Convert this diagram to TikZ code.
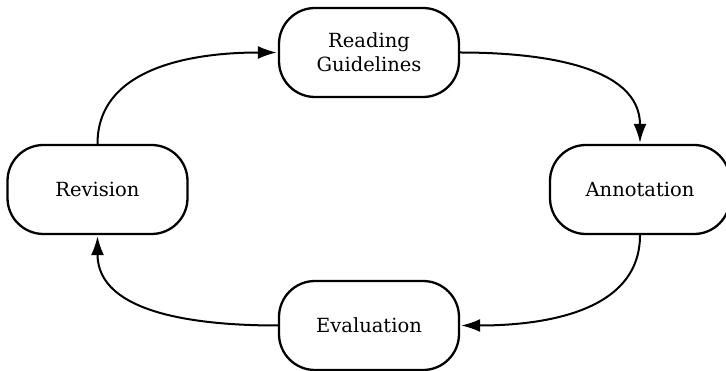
\documentclass[tikz,border=0pt]{standalone}
\usepackage{fontspec}
\setmainfont{DejaVu Serif}
\usetikzlibrary{arrows.meta}
\begin{document}
\begin{tikzpicture}[x=1pt,y=-1pt,
 box/.style={draw, line width=2.3pt, rounded corners=36pt, minimum width=180pt, minimum height=89pt, align=center, font=\fontsize{19.5}{24}\selectfont, inner sep=0pt, outer sep=1.2pt},
 flow/.style={line width=2pt, -{Latex[length=19pt,width=13pt]}, shorten >=1pt}]
\useasboundingbox (0,0) rectangle (726,371);
\clip (0,0) rectangle (726,371);
\node[box] (read) at (369,52.5) {Reading\\Guidelines};
\node[box] (rev) at (97.5,189.5) {Revision};
\node[box] (ann) at (640,189.5) {Annotation};
\node[box] (eval) at (369,325.5) {Evaluation};
\draw[flow] (rev.north) to[out=90,in=180] (read.west);
\draw[flow] (read.east) to[out=0,in=90] (ann.north);
\draw[flow] (ann.south) to[out=-90,in=0] (eval.east);
\draw[flow] (eval.west) to[out=180,in=-90] (rev.south);
\end{tikzpicture}
\end{document}
